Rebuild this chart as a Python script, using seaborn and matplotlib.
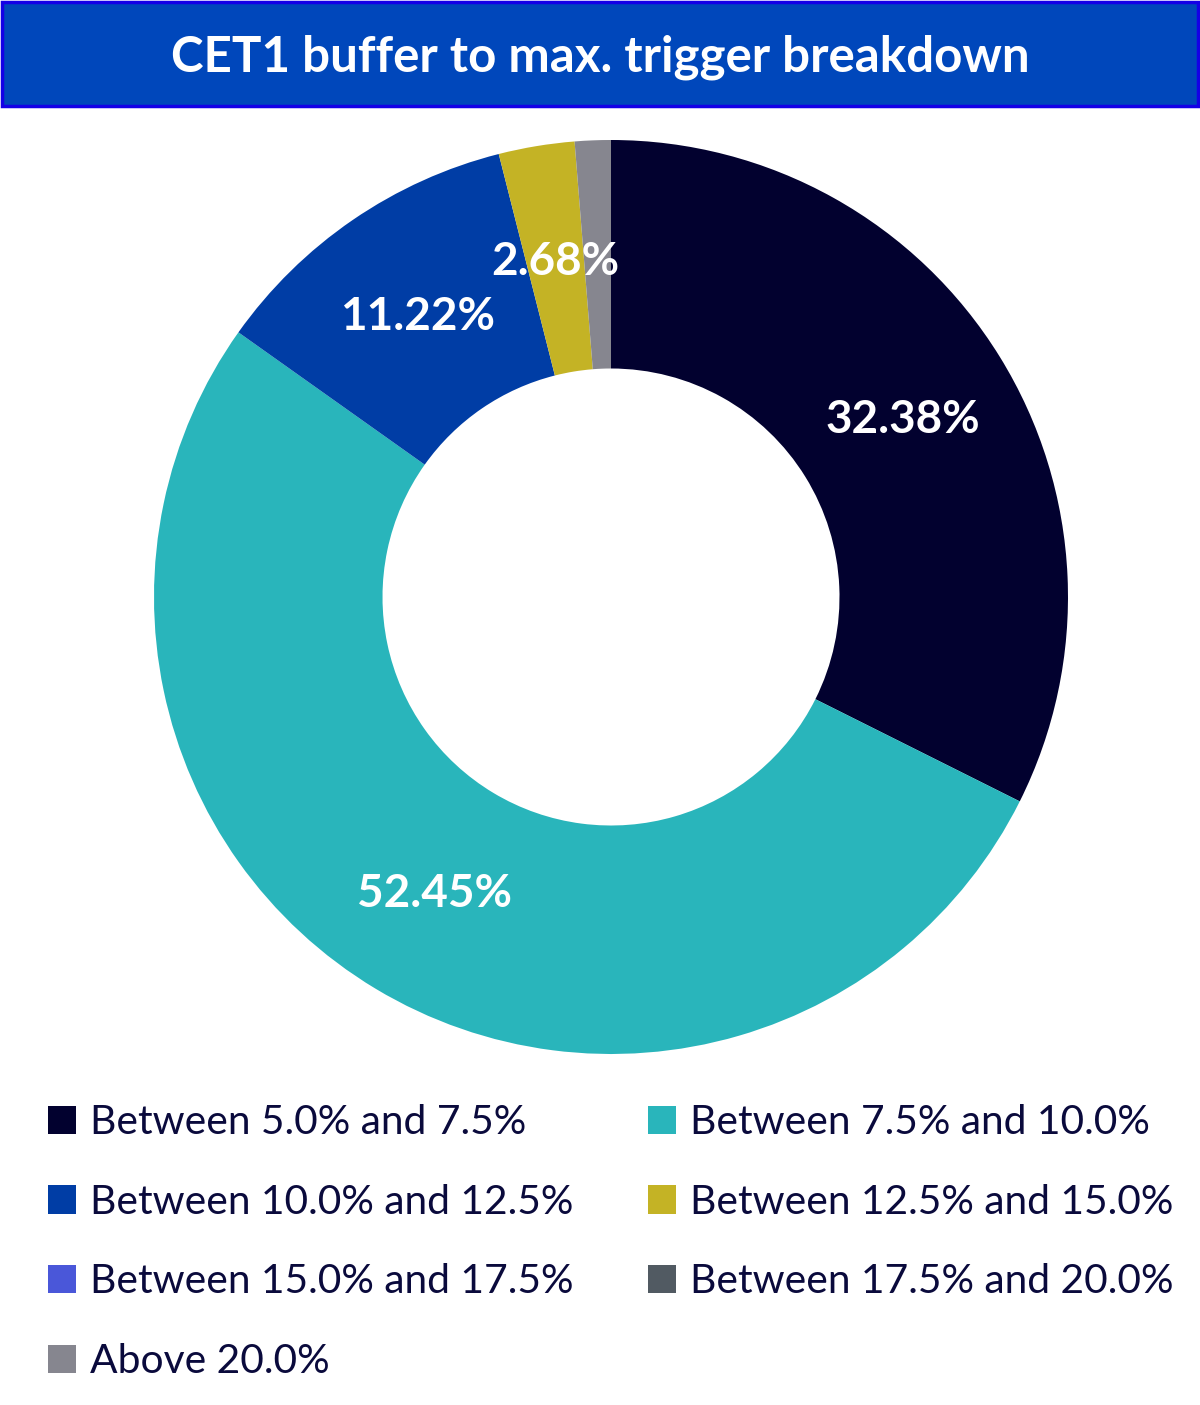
import matplotlib
matplotlib.use("Agg")
import matplotlib.pyplot as plt
import seaborn as sns
import numpy as np
from matplotlib.patches import Rectangle, Patch

# data
categories = ["Between 5.0% and 7.5%", "Between 7.5% and 10.0%",
              "Between 10.0% and 12.5%", "Between 12.5% and 15.0%",
              "Between 15.0% and 17.5%", "Between 17.5% and 20.0%",
              "Above 20.0%"]
shares = [32.38, 52.45, 11.22, 2.68, 0.0, 0.0, 1.27]
colors = ["#02012f", "#29b5bb", "#003da5", "#c4b325",
          "#4a57d9", "#515a62", "#86868f"]
title = "CET1 buffer to max. trigger breakdown"

sns.set_theme(style="white")
plt.rcParams['font.family'] = ['Lato', 'DejaVu Sans']
palette = sns.color_palette(colors)
text_col = "#0a0a3c"

fig = plt.figure(figsize=(12, 14.05), dpi=100)

# title bar
fig.patches.append(Rectangle((0.0015, 1 - 106 / 1405), 0.997, 104 / 1405,
                             transform=fig.transFigure, facecolor="#0047bb",
                             edgecolor="#1400e6", linewidth=2.5, zorder=0))
fig.text(0.5, 1 - 57 / 1405, title, color="white", fontsize=35.5,
         fontweight="bold", ha="center", va="center")

# donut
ax = fig.add_axes([154 / 1200, 1 - 1054 / 1405, 914 / 1200, 914 / 1405])
wedges, _ = ax.pie(shares, colors=palette, startangle=90, counterclock=False,
                   radius=1.0, wedgeprops=dict(width=0.5, edgecolor="none"))
ax.set_xlim(-1, 1)
ax.set_ylim(-1, 1)
ax.axis("off")

total = sum(shares)
start = 90.0
for v in shares:
    ang = start - v / total * 360 / 2
    start -= v / total * 360
    if v >= 2:
        a = np.deg2rad(ang)
        ax.text(0.75 * np.cos(a), 0.75 * np.sin(a) - 0.006, f"{v:.2f}%", color="white",
                fontsize=33, fontweight="bold", ha="center", va="center")

# legend, filled row by row
handles = [Patch(facecolor=c, edgecolor="none") for c in palette]
order = [0, 2, 4, 6, 1, 3, 5]
leg = fig.legend([handles[i] for i in order], [categories[i] for i in order],
                 ncol=2, loc="upper left", bbox_to_anchor=(48 / 1200, 1 - 1104 / 1405),
                 frameon=False, fontsize=29.3, handlelength=0.69, handleheight=0.69,
                 handletextpad=0.33, labelspacing=1.05, columnspacing=1.85,
                 borderpad=0, borderaxespad=0)
for t in leg.get_texts():
    t.set_color(text_col)

fig.savefig("out.png", dpi=100, facecolor="white")
